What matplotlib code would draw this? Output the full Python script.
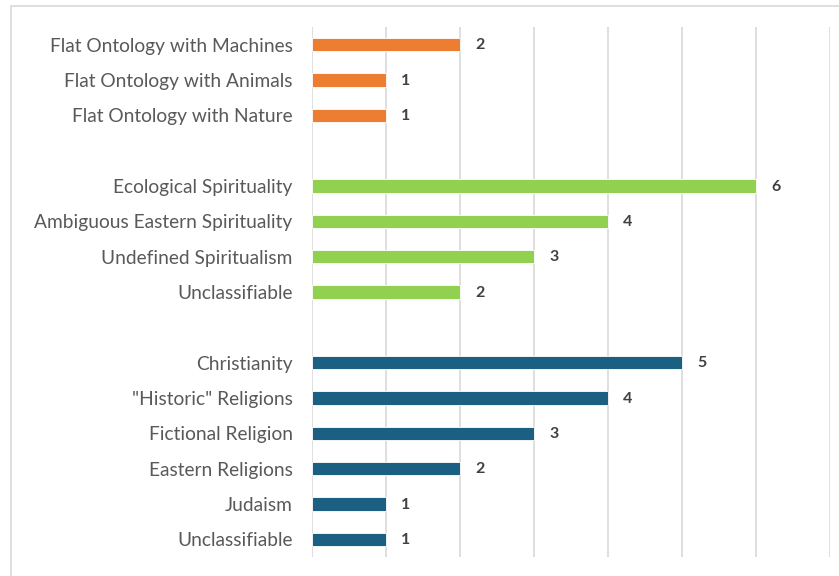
import matplotlib.pyplot as plt
from matplotlib.patches import Rectangle

# data, top to bottom, grouped
flat_labels = ["Flat Ontology with Machines", "Flat Ontology with Animals", "Flat Ontology with Nature"]
flat_values = [2, 1, 1]

spirit_labels = ["Ecological Spirituality", "Ambiguous Eastern Spirituality",
                 "Undefined Spiritualism", "Unclassifiable"]
spirit_values = [6, 4, 3, 2]

religion_labels = ["Christianity", '"Historic" Religions', "Fictional Religion",
                   "Eastern Religions", "Judaism", "Unclassifiable"]
religion_values = [5, 4, 3, 2, 1, 1]

group_colors = ["#ED7D31", "#92D050", "#1B5F82"]

plt.rcParams['font.family'] = ['Lato', 'DejaVu Sans']

fig = plt.figure(figsize=(8.39, 5.76), dpi=100)
ax = fig.add_axes([312/839, 1 - 557/576, (830 - 312)/839, (557 - 27)/576])

# frame around the chart area (only top and left visible in the crop)
fig.patches.append(Rectangle((11/839, -0.1), 1.2, 1.1 - 6/576, transform=fig.transFigure,
                             fill=False, edgecolor="#D9D9D9", linewidth=1.2))

positions, labels = [], []
pos = 0
for g, (labs, vals) in enumerate([(flat_labels, flat_values),
                                  (spirit_labels, spirit_values),
                                  (religion_labels, religion_values)]):
    ys = list(range(pos, pos + len(vals)))
    ax.barh(ys, vals, height=0.37, color=group_colors[g], edgecolor="white",
            linewidth=0.6, zorder=3)
    for y, v in zip(ys, vals):
        ax.annotate(str(v), (v, y), xytext=(11, -0.5), textcoords="offset points",
                    ha="left", va="center", fontsize=11.5, fontweight="bold", color="#404040")
    positions += ys
    labels += labs
    pos += len(vals) + 1

ax.set_yticks(positions)
ax.set_yticklabels(labels, fontsize=13.8, color="#595959")
ax.tick_params(axis="y", length=0, pad=14)
ax.set_ylim(pos - 1.5, -0.5)
ax.set_xlim(0, 7)
ax.set_xticks(range(0, 8))
ax.tick_params(axis="x", length=0, labelbottom=False)
ax.grid(axis="x", color="#D9D9D9", linewidth=1.2, zorder=0)
for s in ax.spines.values():
    s.set_visible(False)

fig.savefig("out.png", dpi=100)
